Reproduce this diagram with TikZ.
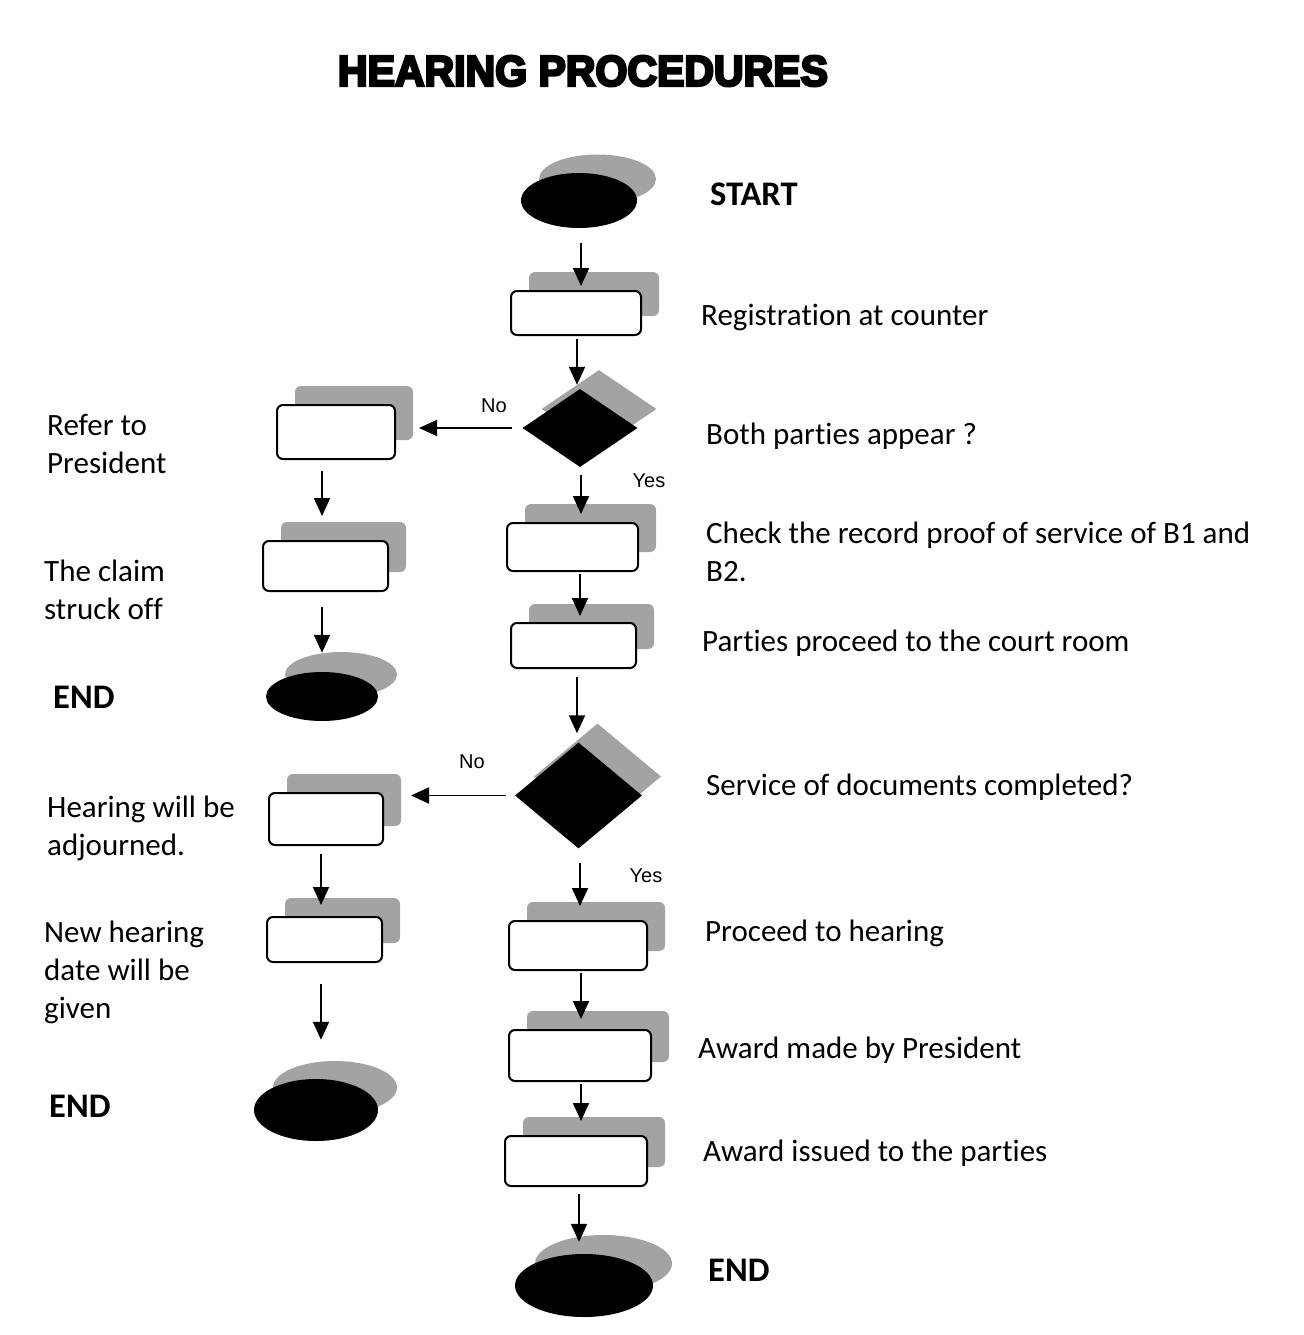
\documentclass[tikz,border=0pt]{standalone}
\usepackage{graphicx}
\usepackage{fontspec}
\setmainfont{Carlito}[Ligatures={NoCommon,NoRequired,NoContextual}]
\newfontfamily\labfont{Liberation Sans}
\newfontfamily\titlefont{Liberation Sans}[BoldFeatures={FakeBold=6}]
\newcommand{\nolig}{\kern0pt }
\usetikzlibrary{shapes.geometric,arrows.meta,shadows}
\definecolor{shgray}{RGB}{163,163,163}
\begin{document}
\begin{tikzpicture}[x=1pt,y=-1pt,
  box/.style={draw, line width=2pt, rounded corners=6pt, fill=white, inner sep=0pt,
    general shadow={fill=shgray, draw=none, shadow xshift=18pt, shadow yshift=19pt}},
  dia/.style={diamond, fill=black, inner sep=0pt,
    general shadow={fill=shgray, draw=none, shadow xshift=19pt, shadow yshift=19pt}},
  term/.style={ellipse, fill=black, inner sep=0pt},
  arr/.style={line width=1.9pt, -{Triangle[length=18pt,width=16pt]}},
  lab/.style={anchor=west, inner sep=0pt, align=left, font=\fontsize{31}{38}\selectfont},
  blab/.style={anchor=west, inner sep=0pt, font=\fontsize{34.5}{38}\selectfont\bfseries},
  yn/.style={inner sep=0pt, font=\labfont\fontsize{20}{24}\selectfont}
]
\useasboundingbox (0,0) rectangle (1303,1335);

% title
\node[inner sep=0pt] (title) at (583,71) {\titlefont\bfseries\resizebox{490pt}{30pt}{HEARING PROCEDURES}};

% terminal shadows
\fill[shgray] (597.5,179) ellipse [x radius=58.5, y radius=24.5];
\fill[shgray] (341,674.5) ellipse [x radius=56, y radius=22.5];
\fill[shgray] (335,1087.5) ellipse [x radius=62, y radius=26.5];
\fill[shgray] (603.5,1263.5) ellipse [x radius=68.5, y radius=28.5];

% nodes
\node[term, minimum width=116pt, minimum height=55pt] (start) at (579,200.5) {};
\node[box, minimum width=130pt, minimum height=44pt] (reg) at (576,313) {};
\node[dia, minimum width=115pt, minimum height=78pt] (d1) at (580,428) {};
\node[box, minimum width=118pt, minimum height=54pt] (refer) at (336,432) {};
\node[box, minimum width=125pt, minimum height=50pt] (claim) at (325.5,566) {};
\node[term, minimum width=112pt, minimum height=49pt] (end1) at (322,696.5) {};
\node[box, minimum width=131pt, minimum height=48pt] (check) at (572.5,547) {};
\node[box, minimum width=125pt, minimum height=45pt] (parties) at (573.5,645.5) {};
\node[dia, minimum width=127pt, minimum height=106pt] (d2) at (578.5,795.5) {};
\node[box, minimum width=114pt, minimum height=52pt] (adj) at (326,819) {};
\node[box, minimum width=115pt, minimum height=45pt] (newh) at (324.5,939.5) {};
\node[term, minimum width=124pt, minimum height=62pt] (end2) at (316,1110) {};
\node[box, minimum width=138pt, minimum height=49pt] (proc) at (578,945.5) {};
\node[box, minimum width=142pt, minimum height=51pt] (made) at (580,1055.5) {};
\node[box, minimum width=142pt, minimum height=50pt] (issued) at (576,1161) {};
\node[term, minimum width=138pt, minimum height=63pt] (end3) at (584,1285.5) {};

% connectors
\draw[arr, shorten <=15pt, shorten >=4pt] ([xshift=2pt]start.south) -- ([xshift=5pt]reg.north);
\draw[arr, shorten <=3pt, shorten >=4pt] ([xshift=1pt]reg.south) -- ([xshift=-3pt]d1.north);
\draw[arr, shorten <=10pt, shorten >=23pt] (d1.west) -- (refer.east |- d1.west);
\draw[arr, shorten <=11pt, shorten >=24pt] ([xshift=-14pt]refer.south) -- ([xshift=-3.5pt]claim.north);
\draw[arr, shorten <=15pt, shorten >=19pt] ([xshift=-3.5pt]claim.south) -- (end1.north);
\draw[arr, shorten <=8pt, shorten >=8pt] ([xshift=1pt]d1.south) -- ([xshift=8.5pt]check.north);
\draw[arr, shorten <=2pt, shorten >=6pt] ([xshift=7.5pt]check.south) -- ([xshift=6.5pt]parties.north);
\draw[arr, shorten <=8pt, shorten >=9pt] ([xshift=3.5pt]parties.south) -- ([xshift=-1.5pt]d2.north);
\draw[arr, shorten <=9pt, shorten >=27pt] (d2.west) -- (adj.east |- d2.west);
\draw[arr, shorten <=8pt, shorten >=11pt] ([xshift=-5pt]adj.south) -- ([xshift=-3.5pt]newh.north);
\draw[arr, shorten <=21pt, shorten >=39pt] ([xshift=-3.5pt]newh.south) -- ([xshift=5pt]end2.north);
\draw[arr, shorten <=14pt, shorten >=14pt] ([xshift=1.5pt]d2.south) -- ([xshift=2pt]proc.north);
\draw[arr, shorten <=2pt, shorten >=10pt] ([xshift=3pt]proc.south) -- ([xshift=1pt]made.north);
\draw[arr, shorten <=2pt, shorten >=14pt] ([xshift=1pt]made.south) -- ([xshift=5pt]issued.north);
\draw[arr, shorten <=7pt, shorten >=12pt] ([xshift=3pt]issued.south) -- ([xshift=-5pt]end3.north);

% No / Yes labels
\node[yn] (no1) at (494,406) {No};
\node[yn] (yes1) at (649,481) {Yes};
\node[yn] (no2) at (472,762) {No};
\node[yn] (yes2) at (646,876) {Yes};

% right labels
\node[blab] (tstart) at (710,194) {START};
\node[lab] (treg) at (701,317) {Registrat\nolig ion at counter};
\node[lab] (td1) at (706,436) {Both part\nolig ies appear ?};
\node[lab] (tcheck) at (706,552) {Check the record proof of service of B1 and\\B2.};
\node[lab] (tparties) at (702,643) {Part\nolig ies proceed to the court room};
\node[lab] (td2) at (706,787) {Service of documents completed?};
\node[lab] (tproc) at (705,933) {Proceed to hearing};
\node[lab] (tmade) at (698,1050) {Award made by President};
\node[lab] (tissued) at (703,1153) {Award issued to the part\nolig ies};
\node[blab] (tend3) at (708,1270) {END};

% left labels
\node[lab] (trefer) at (47,444) {Refer to\\President};
\node[lab] (tclaim) at (44,590) {The claim\\struck of\nolig f};
\node[blab] (tend1) at (53,697) {END};
\node[lab] (tadj) at (47,828) {Hearing will be\\adjourned.};
\node[lab] (tnewh) at (44,972) {New hearing\\date will be\\given};
\node[blab] (tend2) at (49,1106) {END};
\end{tikzpicture}
\end{document}
